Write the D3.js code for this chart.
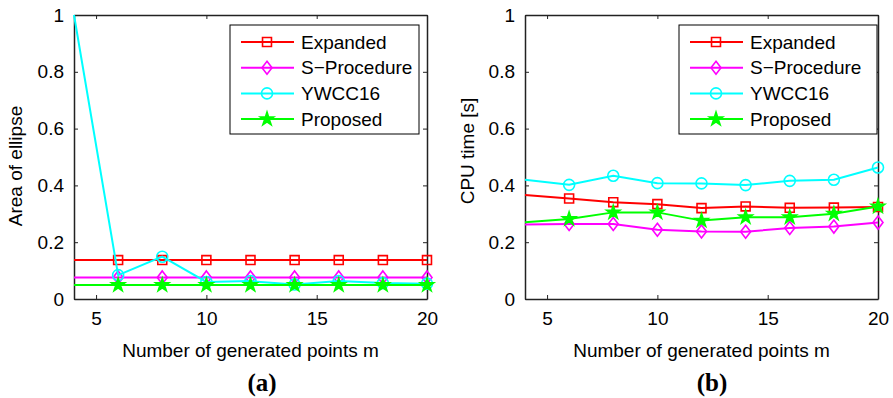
<!DOCTYPE html>
<html>
<head>
<meta charset="utf-8">
<script src="https://cdn.jsdelivr.net/npm/d3@7"></script>
<style>
  body { margin: 0; background: #fff; }
  text { font-family: "Liberation Sans", Arial, sans-serif; fill: #000; }
  .caption { font-family: "Liberation Serif", "Times New Roman", serif; font-weight: bold; }
</style>
</head>
<body>
<div class="chart"></div>
<script>
var mValues = [4, 6, 8, 10, 12, 14, 16, 18, 20];
var seriesNames = ["Expanded", "S\u2212Procedure", "YWCC16", "Proposed"];
var xTicks = [5, 10, 15, 20];
var yTicks = [0, 0.2, 0.4, 0.6, 0.8, 1];

// panel (a): area of ellipse
var areaExpanded = [0.137, 0.137, 0.137, 0.137, 0.137, 0.137, 0.137, 0.137, 0.137];
var areaSProcedure = [0.076, 0.076, 0.076, 0.076, 0.076, 0.076, 0.076, 0.076, 0.076];
var areaYWCC16 = [1.0, 0.084, 0.149, 0.060, 0.063, 0.051, 0.063, 0.056, 0.054];
var areaProposed = [0.049, 0.049, 0.049, 0.049, 0.049, 0.049, 0.049, 0.049, 0.049];

// panel (b): CPU time
var cpuExpanded = [0.366, 0.354, 0.341, 0.334, 0.320, 0.326, 0.321, 0.322, 0.324];
var cpuSProcedure = [0.262, 0.264, 0.264, 0.244, 0.238, 0.237, 0.250, 0.255, 0.269];
var cpuYWCC16 = [0.420, 0.402, 0.434, 0.408, 0.407, 0.401, 0.416, 0.420, 0.463];
var cpuProposed = [0.270, 0.282, 0.305, 0.305, 0.276, 0.288, 0.288, 0.300, 0.326];

var colors = ["#ff0000", "#ff00ff", "#00ffff", "#00ff00"];

var svg = d3.select(".chart").append("svg")
  .attr("width", 893)
  .attr("height", 398);

// matlab-like diamond (a bit taller than wide)
var diamondTall = {
  draw: function(ctx, size) {
    var w = 5, h = 6.5;
    ctx.moveTo(0, -h); ctx.lineTo(w, 0); ctx.lineTo(0, h); ctx.lineTo(-w, 0); ctx.closePath();
  }
};
var markers = [
  { type: d3.symbolSquare, size: 80, fill: "none" },
  { type: diamondTall, size: 1, fill: "none" },
  { type: d3.symbolCircle, size: 95, fill: "none" },
  { type: d3.symbolStar, size: 55, fill: "#00ff00" }
];

function drawMarker(g, i, x, y) {
  g.append("path")
    .attr("d", d3.symbol().type(markers[i].type).size(markers[i].size)())
    .attr("transform", "translate(" + x + "," + y + ")")
    .attr("fill", markers[i].fill)
    .attr("stroke", colors[i])
    .attr("stroke-width", 1.6);
}

function panel(opts) {
  var left = opts.left, right = opts.left + 353, top = 15, bottom = 299;
  var x = d3.scaleLinear().domain([4, 20]).range([left, right]);
  var y = d3.scaleLinear().domain([0, 1]).range([bottom, top]);
  var g = svg.append("g");

  // axes on all four sides, ticks pointing inward
  g.append("g").attr("transform", "translate(0," + bottom + ")")
    .call(d3.axisBottom(x).tickValues(xTicks).tickSizeInner(-4).tickSizeOuter(0).tickPadding(13));
  g.append("g").attr("transform", "translate(0," + top + ")")
    .call(d3.axisTop(x).tickValues(xTicks).tickSizeInner(-4).tickSizeOuter(0).tickFormat(""));
  g.append("g").attr("transform", "translate(" + left + ",0)")
    .call(d3.axisLeft(y).tickValues(yTicks).tickSizeInner(-4).tickSizeOuter(0).tickPadding(10)
      .tickFormat(function(d) { return d === 0 || d === 1 ? d : d3.format(".1f")(d); }));
  g.append("g").attr("transform", "translate(" + right + ",0)")
    .call(d3.axisRight(y).tickValues(yTicks).tickSizeInner(-4).tickSizeOuter(0).tickFormat(""));
  g.selectAll(".domain").attr("stroke", "#222").attr("stroke-width", 1.5);
  g.selectAll(".tick line").attr("stroke", "#222");
  g.selectAll(".tick text").style("font-family", "Liberation Sans, Arial, sans-serif").style("font-size", "19px");

  var line = d3.line()
    .x(function(d, i) { return x(mValues[i]); })
    .y(function(d) { return y(d); });

  opts.series.forEach(function(vals, s) {
    g.append("path")
      .datum(vals)
      .attr("d", line)
      .attr("fill", "none")
      .attr("stroke", colors[s])
      .attr("stroke-width", 2);
    vals.forEach(function(v, i) {
      if (mValues[i] > 4) drawMarker(g, s, x(mValues[i]), y(v));
    });
  });

  // legend
  var lg = g.append("g");
  lg.append("rect")
    .attr("x", opts.legendX).attr("y", 25)
    .attr("width", opts.legendW).attr("height", 109)
    .attr("fill", "#fff").attr("stroke", "#000").attr("stroke-width", 1);
  seriesNames.forEach(function(name, s) {
    var ly = 42 + s * 25.7;
    lg.append("line")
      .attr("x1", opts.legendX + 11).attr("x2", opts.legendX + 64)
      .attr("y1", ly).attr("y2", ly)
      .attr("stroke", colors[s]).attr("stroke-width", 2);
    drawMarker(lg, s, opts.legendX + 37, ly);
    lg.append("text")
      .attr("x", opts.legendX + 71).attr("y", ly).attr("dy", "0.35em")
      .style("font-size", "19px")
      .text(name);
  });

  g.append("text")
    .attr("x", (left + right) / 2).attr("y", 357)
    .attr("text-anchor", "middle")
    .style("font-size", "19px")
    .text("Number of generated points m");

  g.append("text")
    .attr("transform", "translate(" + opts.yLabelX + "," + opts.yLabelY + ") rotate(-90)")
    .attr("text-anchor", "middle")
    .style("font-size", "19px")
    .text(opts.yLabel);

  g.append("text")
    .attr("class", "caption")
    .attr("x", opts.captionX).attr("y", 391)
    .attr("text-anchor", "middle")
    .style("font-size", "25px")
    .text(opts.caption);
}

panel({
  left: 74,
  series: [areaExpanded, areaSProcedure, areaYWCC16, areaProposed],
  legendX: 230, legendW: 189,
  yLabel: "Area of ellipse", yLabelX: 22, yLabelY: 166,
  caption: "(a)", captionX: 262
});

panel({
  left: 525,
  series: [cpuExpanded, cpuSProcedure, cpuYWCC16, cpuProposed],
  legendX: 679, legendW: 198,
  yLabel: "CPU time [s]", yLabelX: 474, yLabelY: 151,
  caption: "(b)", captionX: 712
});
</script>
</body>
</html>
